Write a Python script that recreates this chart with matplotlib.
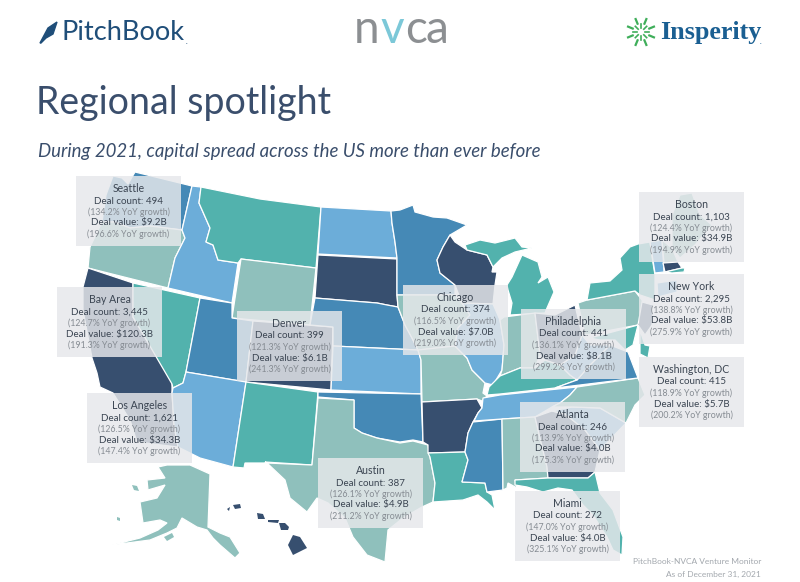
import matplotlib
matplotlib.use("Agg")
import matplotlib.pyplot as plt
from matplotlib.patches import Rectangle
import numpy as np

plt.rcParams["font.family"] = ["Lato", "DejaVu Sans"]

# callout data
cities = ["Seattle", "Bay Area", "Denver", "Chicago", "Philadelphia", "Boston",
          "New York", "Washington, DC", "Los Angeles", "Austin", "Atlanta", "Miami"]
deal_counts = ["494", "3,445", "399", "374", "441", "1,103", "2,295", "415", "1,621", "387", "246", "272"]
count_growth = ["134.2", "124.7", "121.3", "116.5", "136.1", "124.4", "138.8", "118.9", "126.5", "126.1", "113.9", "147.0"]
deal_values = ["9.2", "120.3", "6.1", "7.0", "8.1", "34.9", "53.8", "5.7", "34.3", "4.9", "4.0", "4.0"]
value_growth = ["196.6", "191.3", "241.3", "219.0", "299.2", "194.9", "275.9", "200.2", "147.4", "211.2", "175.3", "325.1"]

# top left corner of every callout, in picture pixels
box_left = [76, 57, 237, 403, 521, 639, 639, 639, 87, 318, 520, 515]
box_top = [176, 287, 311, 285, 309, 192, 274, 357, 393, 458, 402, 491]
box_w, box_h = 105, 70

NAVY = "#374f6f"
MID = "#4589b6"
LIGHT = "#6cadd9"
TEAL = "#52b2ad"
GREY = "#8fc0bc"

state_color = {
    "WA": MID, "OR": GREY, "CA": NAVY, "NV": TEAL, "ID": LIGHT, "MT": TEAL, "WY": GREY, "UT": MID,
    "AZ": LIGHT, "CO": NAVY, "NM": TEAL, "ND": LIGHT, "SD": NAVY, "NE": MID, "KS": LIGHT, "OK": MID,
    "TX": GREY, "MN": MID, "IA": GREY, "MO": GREY, "AR": NAVY, "LA": TEAL, "WI": NAVY, "IL": LIGHT,
    "MS": MID, "MI_U": TEAL, "MI_L": TEAL, "IN": GREY, "KY": TEAL, "TN": LIGHT, "AL": GREY, "GA": NAVY,
    "FL": TEAL, "SC": LIGHT, "NC": GREY, "VA": MID, "WV": LIGHT, "OH": NAVY, "PA": GREY, "NY": TEAL,
    "VT": LIGHT, "NH": GREY, "MA": NAVY, "CT": LIGHT, "ME": GREY, "NJ": NAVY, "MD": TEAL, "DE": TEAL,
    "RI": TEAL, "AK": GREY,
}

# state outlines
outlines = {
    "WA": [(113, 176), (122, 178), (128, 184), (135, 172), (192, 186), (182, 230), (150, 226), (130, 228), (115, 222), (102, 222), (106, 195)],
    "OR": [(102, 222), (115, 222), (130, 228), (150, 226), (182, 230), (185, 238), (175, 258), (168, 288), (88, 268), (90, 247)],
    "CA": [(88, 268), (133, 283), (133, 317), (172, 382), (172, 393), (174, 425), (178, 447), (137, 442), (130, 420), (113, 393), (100, 387), (97, 373), (92, 358), (83, 310), (83, 287)],
    "NV": [(133, 283), (200, 298), (186, 372), (183, 383), (173, 388), (172, 384), (133, 317)],
    "ID": [(192, 186), (201, 187), (199, 203), (210, 228), (206, 242), (213, 245), (218, 260), (238, 263), (232, 303), (168, 288), (175, 258), (185, 238), (182, 230)],
    "MT": [(201, 187), (260, 199), (321, 207), (316, 268), (241, 259), (238, 263), (218, 260), (213, 245), (206, 242), (210, 228), (199, 203)],
    "WY": [(241, 259), (316, 268), (310, 325), (232, 318)],
    "UT": [(200, 298), (232, 303), (232, 318), (253, 321), (246, 382), (186, 372)],
    "AZ": [(186, 372), (246, 382), (233, 467), (200, 458), (178, 447), (174, 425), (172, 393), (173, 388), (183, 383)],
    "CO": [(253, 321), (333, 327), (331, 390), (246, 382)],
    "NM": [(246, 382), (318, 392), (312, 465), (265, 462), (267, 463), (245, 463), (244, 468), (233, 467)],
    "ND": [(321, 207), (391, 211), (392, 223), (395, 242), (397, 258), (318, 254)],
    "SD": [(318, 255), (397, 259), (397, 295), (398, 307), (387, 305), (377, 303), (315, 298)],
    "NE": [(315, 298), (377, 303), (387, 305), (398, 307), (405, 325), (412, 338), (418, 350), (333, 346), (333, 327), (310, 325)],
    "KS": [(333, 346), (418, 350), (421, 360), (421, 394), (331, 390)],
    "OK": [(318, 392), (421, 394), (423, 442), (413, 440), (400, 442), (377, 438), (362, 433), (354, 428), (354, 400), (318, 397)],
    "TX": [(318, 398), (354, 400), (354, 428), (362, 433), (377, 438), (400, 443), (413, 441), (428, 445), (430, 457), (435, 483), (433, 502), (422, 507), (403, 518), (388, 530), (385, 562), (367, 555), (353, 537), (345, 518), (328, 503), (317, 498), (307, 512), (290, 498), (285, 480), (267, 463), (312, 465)],
    "MN": [(391, 211), (400, 210), (413, 205), (415, 212), (433, 217), (447, 218), (467, 225), (450, 235), (443, 247), (437, 260), (440, 273), (455, 285), (455, 295), (397, 295), (397, 258), (395, 242), (392, 223)],
    "IA": [(397, 295), (455, 295), (462, 303), (470, 315), (458, 328), (455, 346), (418, 350), (412, 338), (405, 325), (398, 307)],
    "MO": [(418, 350), (455, 346), (467, 358), (472, 370), (485, 383), (483, 393), (487, 396), (482, 401), (477, 399), (422, 402), (421, 360)],
    "AR": [(422, 402), (477, 399), (482, 408), (478, 413), (473, 422), (468, 433), (465, 452), (428, 453), (428, 445), (423, 442)],
    "LA": [(428, 453), (465, 452), (468, 460), (462, 482), (485, 483), (487, 492), (492, 495), (495, 510), (487, 502), (478, 495), (463, 500), (433, 502), (435, 483), (430, 457)],
    "WI": [(455, 242), (467, 250), (487, 255), (493, 267), (492, 272), (497, 272), (495, 285), (493, 304), (462, 303), (455, 285), (440, 273), (437, 260), (443, 247), (450, 235)],
    "IL": [(462, 303), (493, 304), (500, 320), (504, 345), (502, 370), (493, 385), (485, 383), (472, 370), (467, 358), (455, 346), (458, 328), (470, 315)],
    "MS": [(473, 422), (502, 419), (503, 490), (487, 492), (485, 483), (462, 482), (468, 460), (465, 452), (468, 433)],
    "MI_U": [(465, 245), (480, 240), (495, 243), (515, 238), (522, 247), (532, 248), (515, 252), (502, 258), (493, 267), (487, 255), (467, 250)],
    "MI_L": [(507, 285), (512, 277), (522, 255), (538, 262), (542, 277), (538, 283), (548, 277), (554, 292), (547, 308), (545, 313), (510, 315), (512, 303), (508, 290)],
    "IN": [(504, 317), (535, 313), (540, 355), (535, 368), (520, 368), (500, 376), (502, 370), (504, 345), (500, 320)],
    "KY": [(487, 395), (489, 387), (500, 376), (520, 368), (535, 368), (545, 360), (560, 365), (570, 375), (577, 380), (555, 388), (500, 394)],
    "TN": [(478, 413), (482, 408), (483, 398), (500, 395), (577, 387), (570, 395), (560, 403), (552, 407), (535, 417), (502, 419), (474, 421)],
    "AL": [(502, 419), (535, 417), (547, 467), (548, 478), (515, 480), (517, 488), (508, 483), (507, 488), (503, 490)],
    "GA": [(535, 417), (552, 411), (565, 414), (585, 430), (600, 450), (595, 472), (588, 478), (548, 478), (547, 467)],
    "FL": [(515, 480), (548, 478), (588, 478), (595, 472), (600, 493), (613, 510), (623, 537), (622, 555), (613, 550), (607, 537), (593, 515), (583, 505), (572, 490), (558, 488), (543, 492), (527, 487), (515, 485)],
    "SC": [(552, 411), (572, 407), (600, 408), (626, 423), (600, 450), (585, 430), (565, 414)],
    "NC": [(577, 387), (638, 378), (645, 395), (635, 405), (626, 423), (600, 408), (572, 407), (552, 407), (560, 403), (570, 395)],
    "VA": [(555, 388), (577, 380), (590, 365), (610, 345), (628, 352), (638, 378)],
    "WV": [(577, 380), (570, 375), (560, 365), (575, 355), (582, 335), (590, 345), (610, 345), (590, 365)],
    "OH": [(535, 313), (555, 315), (575, 305), (582, 335), (575, 355), (560, 365), (545, 360), (540, 355)],
    "PA": [(578, 303), (587, 300), (635, 291), (642, 300), (645, 315), (638, 325), (585, 335)],
    "NY": [(587, 300), (590, 283), (610, 281), (622, 270), (620, 258), (630, 247), (638, 244), (650, 242), (653, 263), (655, 275), (655, 300), (640, 295), (635, 291)],
    "VT": [(650, 242), (662, 240), (664, 272), (655, 273)],
    "NH": [(662, 240), (672, 248), (678, 262), (664, 263)],
    "MA": [(663, 263), (678, 262), (682, 268), (665, 272)],
    "RI": [(665, 272), (682, 268), (685, 268), (684, 272), (672, 273)],
    "CT": [(657, 283), (677, 280), (677, 292), (658, 297)],
    "ME": [(680, 195), (692, 193), (700, 215), (712, 225), (695, 245), (680, 258), (672, 248), (672, 215)],
    "NJ": [(642, 302), (653, 305), (652, 325), (645, 335), (638, 325)],
    "MD": [(590, 338), (638, 325), (633, 345), (625, 350), (615, 340), (600, 340)],
    "DE": [(640, 330), (645, 345), (650, 346), (648, 358), (640, 354)],
    "AK": [(158, 467), (167, 465), (190, 465), (210, 474), (208, 527), (220, 533), (230, 537), (240, 553), (235, 558), (220, 545), (213, 538), (207, 530), (197, 527), (182, 518), (177, 528), (167, 533), (150, 540), (127, 543), (112, 545), (140, 538), (158, 530), (167, 523), (160, 520), (143, 523), (140, 502), (157, 498), (165, 485), (148, 490), (147, 480), (165, 478)],
}

# small islands get no white edge
islands = {
    "AK": [
        [(132, 485), (137, 486), (139, 491), (134, 490)],
        [(117, 517), (120, 518), (120, 521), (117, 520)],
        [(164, 537), (172, 533), (174, 537), (167, 541)],
    ],
    "HI": [
        [(293, 535), (300, 537), (307, 548), (293, 555), (288, 545)],
        [(279, 523), (285, 523), (289, 527), (288, 530), (281, 530)],
        [(257, 513), (263, 514), (265, 519), (258, 519)],
        [(268, 520), (279, 520), (278, 523), (268, 522)],
        [(233, 505), (240, 504), (241, 508), (235, 509)],
        [(227, 509), (230, 507), (229, 511)],
    ],
}

fig = plt.figure(figsize=(8, 5.82), dpi=100)
ax = fig.add_axes([0, 0, 1, 1])
ax.set_xlim(0, 800)
ax.set_ylim(582, 0)
ax.axis("off")

for name, pts in outlines.items():
    xs, ys = zip(*pts)
    ax.fill(xs, ys, facecolor=state_color[name], edgecolor="white", linewidth=0.9, zorder=1)

for group, color in [("AK", GREY), ("HI", NAVY)]:
    for pts in islands[group]:
        xs, ys = zip(*pts)
        ax.fill(xs, ys, facecolor=color, edgecolor="none", zorder=1)

# callouts
dark_txt = "#3b4552"
soft_txt = "#858b92"
for i, city in enumerate(cities):
    x0, y0 = box_left[i], box_top[i]
    ax.add_patch(Rectangle((x0, y0), box_w, box_h, facecolor="#e6e8eb", alpha=0.83, edgecolor="none", zorder=2))
    cx = x0 + box_w / 2
    ax.text(cx, y0 + 12.5, city, ha="center", va="center", fontsize=7.6, color=dark_txt, zorder=3)
    ax.text(cx, y0 + 25, f"Deal count: {deal_counts[i]}", ha="center", va="center", fontsize=7, color=dark_txt, zorder=3)
    ax.text(cx, y0 + 36, f"({count_growth[i]}% YoY growth)", ha="center", va="center", fontsize=6.3, color=soft_txt, zorder=3)
    ax.text(cx, y0 + 47, f"Deal value: ${deal_values[i]}B", ha="center", va="center", fontsize=7, color=dark_txt, zorder=3)
    ax.text(cx, y0 + 58, f"({value_growth[i]}% YoY growth)", ha="center", va="center", fontsize=6.3, color=soft_txt, zorder=3)

# headline
ax.text(36, 103, "Regional spotlight", fontsize=27, color="#3a4e6c", ha="left", va="center")
ax.text(38, 151, "During 2021, capital spread across the US more than ever before", fontsize=13.4,
        style="italic", color="#3a4e6c", ha="left", va="center")

# footer
ax.text(761, 562, "PitchBook-NVCA Venture Monitor", fontsize=6, color="#a3a8ae", ha="right", va="center")
ax.text(761, 574, "As of December 31, 2021", fontsize=6, color="#a3a8ae", ha="right", va="center")

# logos
ax.fill([40, 48, 57, 53, 46, 41], [43, 28, 22, 34, 38, 43], color="#1f4e79")
ax.text(62, 33, "PitchBook", fontsize=19.6, color="#1f4e79", ha="left", va="center")
ax.text(186, 41, ".", fontsize=5, color="#1f4e79", ha="left", va="center")

for ch, x, col in [("n", 367, "#8c8f92"), ("v", 392, "#7cc8d8"), ("c", 416, "#8c8f92"), ("a", 437, "#8c8f92")]:
    ax.text(x, 30, ch, fontsize=33, color=col, ha="center", va="center")

# insperity badge: two rings of short green strokes
for r0, r1, off, lw in [(9, 14, np.pi / 8, 1.6), (4, 8, 0, 1.2)]:
    for a in np.arange(8) * np.pi / 4 + off:
        ax.plot([641 + r0 * np.cos(a), 641 + r1 * np.cos(a)], [32 + r0 * np.sin(a), 32 + r1 * np.sin(a)],
                color="#3fae5a", linewidth=lw)
ax.text(660, 33, "Insperity", fontsize=18.8, fontweight="bold", family="Liberation Serif", color="#1a5f92", ha="left", va="center")
ax.text(760, 41, ".", fontsize=5, color="#1a5f92", ha="left", va="center")

fig.savefig("out.png", dpi=100)
